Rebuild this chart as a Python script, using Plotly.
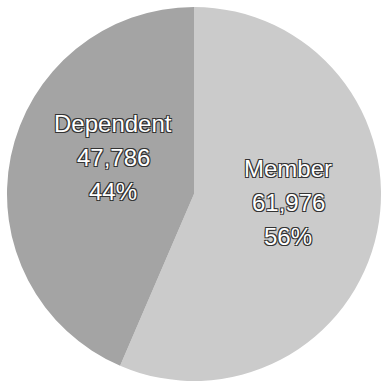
import plotly.graph_objects as go

# Membership breakdown
labels = ["Member", "Dependent"]
values = [61976, 47786]
colors = ["#cbcbcb", "#a4a4a4"]

total = sum(values)

fig = go.Figure(
    go.Pie(
        labels=labels,
        values=values,
        sort=False,
        direction="clockwise",
        rotation=0,
        marker=dict(colors=colors, line=dict(width=0)),
        textinfo="none",
        hoverinfo="skip",
        showlegend=False,
        domain=dict(x=[0.0183, 0.9974], y=[0.0026, 0.9817]),
    )
)

# Slice labels: name, count and share, stacked in three lines
label_font = dict(
    family="Liberation Sans, Arial, sans-serif",
    size=24,
    color="white",
    shadow="1px 1px 0 #333, -1px -1px 0 #333, 1px -1px 0 #333, -1px 1px 0 #333",
)
label_anchor = {"Member": (0.754, 0.471), "Dependent": (0.296, 0.589)}
line_pitch = 34

for name, val in zip(labels, values):
    x0, y0 = label_anchor[name]
    lines = [name, f"{val:,}", f"{round(100 * val / total)}%"]
    for i, line in enumerate(lines):
        fig.add_annotation(
            x=x0,
            y=y0,
            xref="paper",
            yref="paper",
            text=line,
            showarrow=False,
            xanchor="center",
            yanchor="middle",
            yshift=(1 - i) * line_pitch,
            font=label_font,
        )

fig.update_layout(
    width=382,
    height=382,
    margin=dict(l=0, r=0, t=0, b=0),
    paper_bgcolor="white",
    plot_bgcolor="white",
)

fig.write_html("out.html")
